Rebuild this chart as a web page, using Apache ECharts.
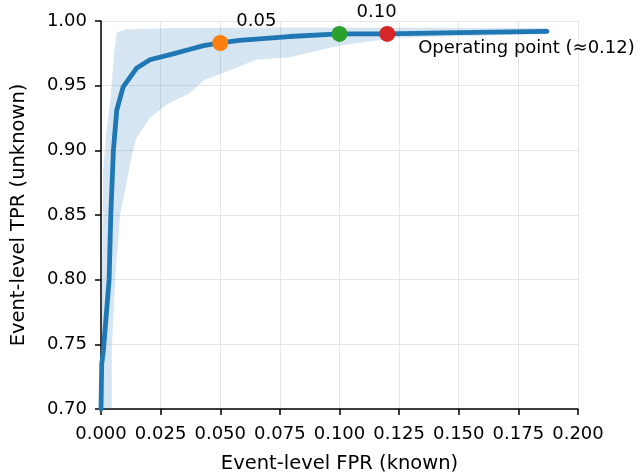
<!DOCTYPE html>
<html>
<head>
<meta charset="utf-8">
<script src="https://cdn.jsdelivr.net/npm/echarts@6/dist/echarts.min.js"></script>
<style>
  html, body { margin: 0; padding: 0; background: #fff; }
  #chart { width: 640px; height: 476px; }
</style>
</head>
<body>
<div id="chart"></div>
<script>
// mean ROC curve (event level)
const curveFpr = [0, 0.0003, 0.001, 0.0034, 0.0041, 0.0052, 0.0066, 0.0093, 0.015, 0.0205, 0.031, 0.037, 0.043, 0.05, 0.058, 0.079, 0.10, 0.12, 0.15, 0.187]
const curveTpr = [0.70, 0.735, 0.745, 0.80, 0.85, 0.90, 0.931, 0.949, 0.9637, 0.970, 0.975, 0.978, 0.981, 0.983, 0.985, 0.988, 0.990, 0.990, 0.991, 0.992]

// band upper edge
const upperFpr = [0, 0.0008, 0.002, 0.004, 0.0055, 0.0066, 0.01, 0.03, 0.08, 0.187]
const upperTpr = [0.70, 0.88, 0.91, 0.94, 0.975, 0.991, 0.9935, 0.9945, 0.995, 0.9945]

// band lower edge
const lowerFpr = [0.0045, 0.0045, 0.0059, 0.008, 0.0134, 0.015, 0.0205, 0.028, 0.037, 0.043, 0.054, 0.065, 0.079, 0.10, 0.124, 0.187]
const lowerTpr = [0.70, 0.745, 0.80, 0.85, 0.90, 0.91, 0.925, 0.936, 0.944, 0.954, 0.962, 0.970, 0.972, 0.981, 0.987, 0.990]

// highlighted thresholds
const markFpr = [0.05, 0.10, 0.12]
const markTpr = [0.983, 0.990, 0.990]
const markLabels = ['0.05', '0.10', 'Operating point (≈0.12)']
const markColors = ['#ff7f0e', '#2ca02c', '#d62728']

const font = 'DejaVu Sans'

const curve = curveFpr.map((x, i) => [x, curveTpr[i]])
// polygon: upper edge forward, lower edge backward
const band = upperFpr.map((x, i) => [x, upperTpr[i]])
    .concat(lowerFpr.map((x, i) => [x, lowerTpr[i]]).reverse())

const labelPos = [[24, -13.5], [25, -13.5], [39, 22]]
const marks = markFpr.map((x, i) => ({
    value: [x, markTpr[i]],
    itemStyle: { color: markColors[i], opacity: 1 },
    label: {
        show: true,
        formatter: markLabels[i],
        position: labelPos[i],
        align: 'left',
        verticalAlign: 'middle',
        color: '#000',
        fontFamily: font,
        fontSize: 18
    }
}))

const chart = echarts.init(document.getElementById('chart'), null, { renderer: 'canvas' })
chart.setOption({
    animation: false,
    backgroundColor: '#fff',
    grid: { left: 101, right: 62, top: 21, bottom: 67, containLabel: false, outerBoundsMode: 'none' },
    xAxis: {
        type: 'value',
        min: 0,
        max: 0.2,
        interval: 0.025,
        name: 'Event-level FPR (known)',
        nameLocation: 'middle',
        nameGap: 45,
        nameTextStyle: { color: '#000', fontFamily: font, fontSize: 19.5 },
        axisLine: { show: true, onZero: false, lineStyle: { color: '#000', width: 1.5 } },
        axisTick: { show: true, inside: false, length: 6, lineStyle: { color: '#000', width: 1.5 } },
        axisLabel: {
            color: '#000', fontFamily: font, fontSize: 18, margin: 16,
            formatter: v => v.toFixed(3)
        },
        splitLine: { show: true, lineStyle: { color: '#e6e6e6', width: 1 } }
    },
    yAxis: {
        type: 'value',
        min: 0.7,
        max: 1.0,
        interval: 0.05,
        name: 'Event-level TPR (unknown)',
        nameLocation: 'middle',
        nameGap: 72,
        nameTextStyle: { color: '#000', fontFamily: font, fontSize: 19.5 },
        axisLine: { show: true, onZero: false, lineStyle: { color: '#000', width: 1.5 } },
        axisTick: { show: true, inside: false, length: 6, lineStyle: { color: '#000', width: 1.5 } },
        axisLabel: {
            color: '#000', fontFamily: font, fontSize: 18, margin: 14,
            formatter: v => v.toFixed(2)
        },
        splitLine: { show: true, lineStyle: { color: '#e6e6e6', width: 1 } }
    },
    series: [
        {
            type: 'custom',
            z: 1,
            clip: true,
            silent: true,
            data: [[0, 0.7]],
            renderItem: (params, api) => {
                if (params.dataIndex !== 0) return
                return {
                    type: 'polygon',
                    shape: { points: band.map(p => api.coord(p)) },
                    style: { fill: 'rgba(31,119,180,0.19)', stroke: null }
                }
            }
        },
        {
            type: 'line',
            z: 2,
            data: curve,
            showSymbol: false,
            clip: true,
            lineStyle: { color: '#1f77b4', width: 4.8, cap: 'round', join: 'round' }
        },
        {
            type: 'scatter',
            z: 3,
            symbolSize: 16,
            itemStyle: { opacity: 1 },
            data: marks
        }
    ]
})
</script>
</body>
</html>
